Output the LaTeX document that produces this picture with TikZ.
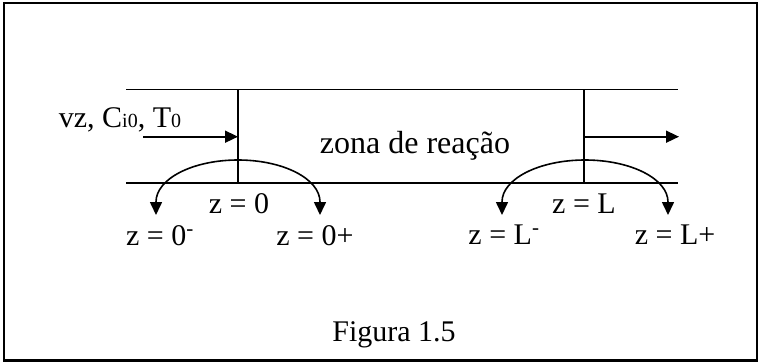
\documentclass[tikz,border=0pt]{standalone}
\usepackage{fontspec}
\setmainfont{Liberation Serif}
\usetikzlibrary{arrows.meta}
\begin{document}
\begin{tikzpicture}[x=1pt,y=-1pt,
  wall/.style={line width=1.5pt},
  flow/.style={line width=1.6pt,-{Triangle[length=13pt,width=12pt]}},
  hop/.style={line width=1.6pt,{Triangle[length=13pt,width=12pt]}-{Triangle[length=13pt,width=12pt]}},
  lbl/.style={font=\fontsize{30}{30}\selectfont, inner sep=0pt, anchor=base}]
\useasboundingbox (0,0) rectangle (766,362);
\draw[line width=2.4pt] (4,3) rectangle (757,360.5);
% tube
\coordinate (tl) at (126,89.3);
\coordinate (tr) at (678,89.3);
\coordinate (bl) at (126,182.7);
\coordinate (br) at (678,182.7);
\coordinate (w0t) at (238,89.3);
\coordinate (w0b) at (238,182.7);
\coordinate (wLt) at (584,89.3);
\coordinate (wLb) at (584,182.7);
\draw[wall] (tl) -- (tr);
\draw[wall, line width=2pt] (bl) -- (br);
\draw[wall] (w0t) -- (w0b);
\draw[wall] (wLt) -- (wLb);
% flows
\coordinate (inS) at (143,136.7);
\coordinate (inE) at (238,136.7);
\coordinate (outS) at (584,136.7);
\coordinate (outE) at (679,136.7);
\draw[flow] (inS) -- (inE);
\draw[flow] (outS) -- (outE);
% arcs
\coordinate (a0l) at (156,215);
\coordinate (a0r) at (320,215);
\coordinate (aLl) at (502,215);
\coordinate (aLr) at (668,215);
\draw[hop] (a0l) -- ++(0,-13) arc[start angle=180,end angle=360,x radius=82,y radius=42] -- (a0r);
\draw[hop] (aLl) -- ++(0,-13) arc[start angle=180,end angle=360,x radius=83,y radius=42] -- (aLr);
% labels
\node[lbl] (feed) at (120,127) {vz, C{\fontsize{20}{20}\selectfont i0}, T{\fontsize{20}{20}\selectfont 0}};
\node[lbl, font=\fontsize{32}{32}\selectfont] (zona) at (415,153) {zona de reação};
\node[lbl] (z0) at (239,213) {z = 0};
\node[lbl] (z0m) at (160,245) {z = 0\textsuperscript{-}};
\node[lbl] (z0p) at (315,245) {z = 0+};
\node[lbl] (zL) at (584,213) {z = L};
\node[lbl] (zLm) at (504,244) {z = L\textsuperscript{-}};
\node[lbl] (zLp) at (675,244) {z = L+};
\node[lbl] (fig) at (394,341) {Figura 1.5};
\end{tikzpicture}
\end{document}
